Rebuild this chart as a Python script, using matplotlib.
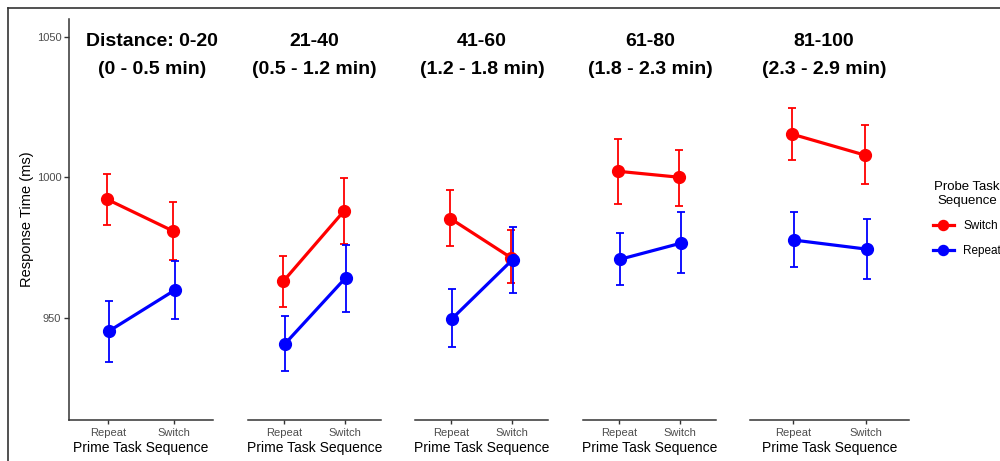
import matplotlib
matplotlib.use("Agg")
import matplotlib.pyplot as plt
from matplotlib.lines import Line2D
import numpy as np

plt.rcParams['font.family'] = ['Liberation Sans', 'DejaVu Sans']

# ---- data ----
prime_levels = ["Repeat", "Switch"]
panel_titles = ["Distance: 0-20\n(0 - 0.5 min)", "21-40\n(0.5 - 1.2 min)",
                "41-60\n(1.2 - 1.8 min)", "61-80\n(1.8 - 2.3 min)",
                "81-100\n(2.3 - 2.9 min)"]

switch_mean = [[992.1, 980.9], [963.0, 987.9], [985.3, 971.4], [1002.1, 1000.0], [1015.3, 1007.9]]
switch_low  = [[983.0, 970.5], [953.9, 976.2], [975.5, 962.2], [990.4, 989.7], [1006.3, 997.6]]
switch_high = [[1001.0, 991.2], [972.1, 999.8], [995.3, 981.1], [1013.5, 1009.6], [1024.6, 1018.6]]

repeat_mean = [[945.3, 959.8], [940.8, 964.2], [949.7, 970.7], [970.8, 976.5], [977.6, 974.4]]
repeat_low  = [[934.4, 949.4], [931.2, 952.1], [939.4, 958.8], [961.6, 965.8], [968.0, 963.7]]
repeat_high = [[956.0, 970.2], [950.6, 976.0], [960.3, 982.3], [980.1, 987.5], [987.5, 985.1]]

y_ticks = [950, 1000, 1050]

# ---- layout (pixels) ----
W, H = 1000, 461
fig = plt.figure(figsize=(W / 100, H / 100), dpi=100)
panel_px = [(69, 213), (248, 381), (415, 548), (583, 716), (750, 909)]
title_cx = [152, 314, 482, 650, 824]
y_bot, y_top = 420, 19
axcol = '#333333'

series = [
    ("Switch", '#FF0000', switch_mean, switch_low, switch_high, -0.015),
    ("Repeat", '#0000FF', repeat_mean, repeat_low, repeat_high, 0.015),
]

handles = []
for i, (x0, x1) in enumerate(panel_px):
    ax = fig.add_axes([x0 / W, (H - y_bot) / H, (x1 - x0) / W, (y_bot - y_top) / H])
    xs = np.arange(1, len(prime_levels) + 1)
    for name, col, m, lo, hi, dx in series:
        mm = np.array(m[i]); ll = np.array(lo[i]); hh = np.array(hi[i])
        ax.errorbar(xs + dx, mm, yerr=[mm - ll, hh - mm], fmt='none', ecolor=col,
                    elinewidth=1.3, capsize=3, capthick=1.3, zorder=2)
        ln, = ax.plot(xs + dx, mm, '-o', color=col, lw=2.3, markersize=8.5, zorder=3, label=name)
        if i == 0:
            handles.append(ln)
    ax.set_xlim(0.4, 2.6)
    ax.set_ylim(913.6, 1056.3)
    ax.set_xticks(xs)
    ax.set_xticklabels(prime_levels, fontsize=8, color='#4d4d4d')
    ax.tick_params(axis='x', length=3, width=1, color=axcol, pad=2.5)
    ax.set_xlabel("Prime Task Sequence", fontsize=10, labelpad=2.5, color='black')
    for s in ['top', 'right']:
        ax.spines[s].set_visible(False)
    ax.spines['bottom'].set_color(axcol)
    ax.spines['bottom'].set_linewidth(1.1)
    if i == 0:
        ax.set_yticks(y_ticks)
        ax.set_yticklabels([str(t) for t in y_ticks], fontsize=8, color='#4d4d4d')
        ax.tick_params(axis='y', length=3.5, width=1, color=axcol, pad=2)
        ax.spines['left'].set_color(axcol)
        ax.spines['left'].set_linewidth(1.1)
        ax.set_ylabel("Response Time (ms)", fontsize=10.5, labelpad=2)
    else:
        ax.spines['left'].set_visible(False)
        ax.set_yticks([])
    ax.patch.set_alpha(0)
    # title inside top of panel
    l1, l2 = panel_titles[i].split("\n")
    fig.text(title_cx[i] / W, 1 - 41 / H, l1, ha='center', va='center',
             fontsize=14, fontweight='bold')
    fig.text(title_cx[i] / W, 1 - 70 / H, l2, ha='center', va='center',
             fontsize=14, fontweight='bold')

# legend
leg = fig.legend(handles=handles, labels=["Switch", "Repeat"], title="Probe Task\nSequence",
                 loc='center left', bbox_to_anchor=(922 / W, 1 - 219 / H), frameon=False,
                 fontsize=8.5, title_fontsize=9.5, handlelength=1.8, handletextpad=0.8,
                 labelspacing=1.1, markerscale=0.85)
leg.get_title().set_multialignment('center')

# outer frame (top and left)
fig.add_artist(Line2D([8 / W, 1.0], [1 - 8 / H, 1 - 8 / H], color='#333333', lw=1.2,
                      transform=fig.transFigure))
fig.add_artist(Line2D([8 / W, 8 / W], [0, 1 - 8 / H], color='#333333', lw=1.2,
                      transform=fig.transFigure))

fig.savefig("out.png", dpi=100)
